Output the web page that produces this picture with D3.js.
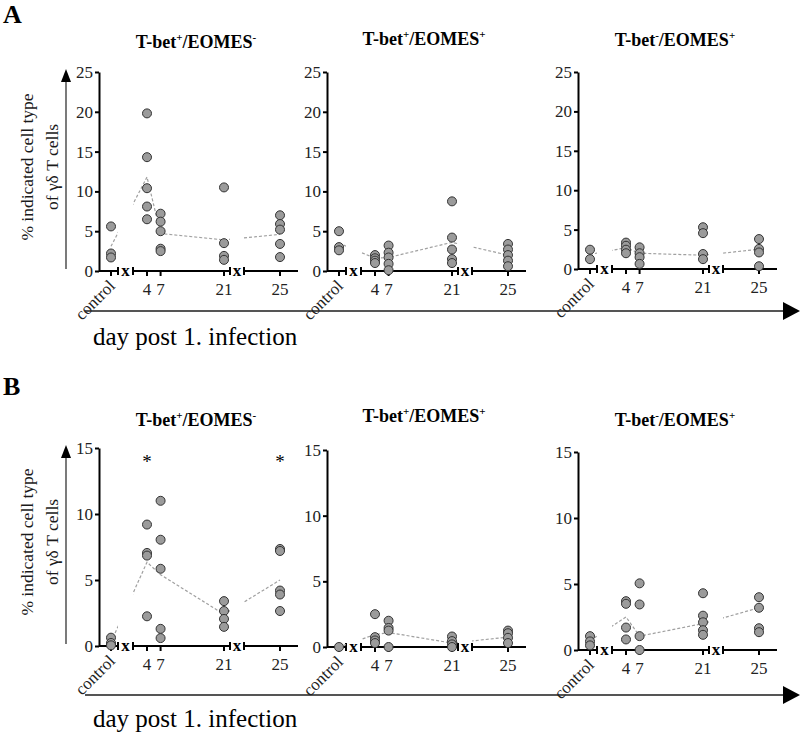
<!DOCTYPE html>
<html>
<head>
<meta charset="utf-8">
<title>T-bet / EOMES in gamma delta T cells</title>
<style>
  body { margin: 0; background: #fff; }
  svg text { font-family: "Liberation Serif", "Times New Roman", Times, serif !important; fill: #1a1a1a; }
  .tick text { font-size: 17px; }
  .domain, .tick line { stroke: #000; stroke-width: 2px; }
  .xaxis line { stroke: #000; stroke-width: 2px; }
  .mean { fill: none; stroke: #a0a0a0; stroke-width: 1.2px; stroke-dasharray: 3,2; }
  .dot { fill: #9b9b9b; stroke: #333; stroke-width: 1px; }
</style>
</head>
<body>
<svg id="chart" width="800" height="735"></svg>
<script src="https://d3js.org/d3.v7.min.js"></script>
<script>
// groups on the x axis (control, then days post infection)
const days = ["control", 4, 7, 21, 25];
const dayValue = [0, 4, 7, 21, 25];

// superscript signs for T-bet / EOMES in each column
const titles = [["+", "-"], ["+", "+"], ["-", "+"]];

// row A: % indicated cell type of γδ T cells, one array per group
const aTbetPosEomesNeg = [[5.6, 2.2, 1.7], [19.8, 14.3, 10.4, 8.1, 6.5], [7.2, 6.2, 5.0, 2.8, 2.5], [10.5, 3.5, 1.9, 1.4], [7.0, 5.9, 5.2, 3.4, 1.75]];
const aTbetPosEomesPos = [[5.0, 3.0, 2.6], [2.0, 1.6, 1.3, 1.0], [3.2, 2.3, 1.7, 0.9, 0.1], [8.75, 4.2, 2.7, 1.5, 1.0], [3.4, 2.7, 2.0, 1.3, 0.6]];
const aTbetNegEomesPos = [[2.45, 1.25], [3.35, 2.95, 2.45, 2.0], [2.75, 2.0, 1.5, 0.65], [5.3, 4.55, 1.9, 1.25], [3.8, 2.55, 2.1, 0.35]];

// row B
const bTbetPosEomesNeg = [[0.63, 0.23, 0.05], [9.2, 7.05, 6.85, 2.25], [11.0, 8.05, 5.85, 1.3, 0.6], [3.4, 2.65, 2.05, 1.45], [7.35, 7.2, 4.2, 3.9, 2.65]];
const bTbetPosEomesPos = [[0.0], [2.5, 0.75, 0.5, 0.3], [2.0, 1.45, 1.25, 0.0], [0.8, 0.45, 0.2, 0.0], [1.25, 1.05, 0.7, 0.3]];
const bTbetNegEomesPos = [[1.05, 0.65, 0.35], [3.7, 3.5, 1.7, 0.8], [5.05, 3.45, 1.05, 0.0], [4.3, 2.6, 2.1, 1.5, 1.15], [4.0, 3.2, 1.65, 1.35]];

// dashed group lines (per panel, per group)
const aLine = [[3.1, 11.8, 4.7, 3.9, 4.6], [3.5, 1.6, 1.7, 3.6, 2.0], [1.85, 2.7, 2.0, 1.75, 2.5]];
const bLine = [[0.3, 6.35, 5.4, 2.4, 5.0], [0.0, 0.95, 1.1, 0.3, 0.75], [0.7, 2.5, 1.05, 2.0, 3.2]];

const aTicks = [0, 5, 10, 15, 20, 25];
const bTicks = [0, 5, 10, 15];
const bStars = [4, 25]; // significant days, left panel of row B

const svg = d3.select("#chart");

// x positions inside a panel (broken axis), relative to the y axis
const x = d3.scaleLinear().domain([0, 4, 21, 25]).range([12, 48, 125, 181]);
const segments = [[0, 19], [34, 131], [145, 199]];
const panelX = [99, 327, 578];

const rows = [
  { label: "A", labelY: 23, series: [aTbetPosEomesNeg, aTbetPosEomesPos, aTbetNegEomesPos], lines: aLine,
    ticks: aTicks, bottoms: [271, 271, 269], tops: [72, 72, 72], titleY: [48, 45, 46],
    arrowY: 311, textY: 345 },
  { label: "B", labelY: 395, series: [bTbetPosEomesNeg, bTbetPosEomesPos, bTbetNegEomesPos], lines: bLine,
    ticks: bTicks, bottoms: [646, 647, 650], tops: [448, 450, 452], titleY: [426, 422, 426],
    arrowY: 695, textY: 727 }
];

rows.forEach((row, r) => {
  svg.append("text").attr("x", 3).attr("y", row.labelY)
    .style("font-size", "26px").style("font-weight", "bold").style("fill", "#000")
    .text(row.label);

  // y label with arrow
  const yb = row.bottoms[0], yt = row.tops[0];
  svg.append("line").attr("x1", 66).attr("x2", 66).attr("y1", yb - 2).attr("y2", yt + 8)
    .attr("stroke", "#222").attr("stroke-width", 1.2);
  svg.append("path").attr("d", `M66,${yt - 3}L61,${yt + 10}L71,${yt + 10}Z`).attr("fill", "#000");
  const yl = svg.append("g").attr("transform", `translate(0,${yb - 104}) rotate(-90)`);
  yl.append("text").attr("y", 33).attr("text-anchor", "middle").style("font-size", "17.5px")
    .text("% indicated cell type");
  yl.append("text").attr("y", 58).attr("text-anchor", "middle").style("font-size", "17.5px")
    .text("of γδ T cells");

  // x label with long arrow
  svg.append("line").attr("x1", 85).attr("x2", 786).attr("y1", row.arrowY).attr("y2", row.arrowY)
    .attr("stroke", "#555").attr("stroke-width", 2);
  svg.append("path").attr("d", `M800,${row.arrowY}L783,${row.arrowY - 9}L783,${row.arrowY + 9}Z`).attr("fill", "#000");
  svg.append("text").attr("x", 93).attr("y", row.textY).style("font-size", "25px").style("fill", "#000")
    .text("day post 1. infection");

  row.series.forEach((groups, p) => {
    const bottom = row.bottoms[p];
    const y = d3.scaleLinear().domain([0, d3.max(row.ticks)]).range([bottom, row.tops[p]]);
    const g = svg.append("g").attr("transform", `translate(${panelX[p]},0)`);

    // title
    const sign = titles[p];
    const t = g.append("text").attr("x", 97).attr("y", row.titleY[p]).attr("text-anchor", "middle")
      .style("font-size", "18px").style("font-weight", "bold").style("fill", "#000");
    t.append("tspan").text("T-bet");
    t.append("tspan").attr("dy", -7).style("font-size", "11px").text(sign[0]);
    t.append("tspan").attr("dy", 7).text("/EOMES");
    t.append("tspan").attr("dy", -7).style("font-size", "11px").text(sign[1]);

    // y axis
    g.append("g").call(d3.axisLeft(y).tickValues(row.ticks).tickSize(4).tickPadding(2).tickSizeOuter(0))
      .call(a => a.selectAll(".tick text").style("fill", "#222"));

    // broken x axis
    const xa = g.append("g").attr("class", "xaxis");
    segments.forEach(s => {
      xa.append("line").attr("x1", s[0]).attr("x2", s[1]).attr("y1", bottom).attr("y2", bottom);
    });
    [19, 34, 131, 145].forEach(b => {
      xa.append("line").attr("x1", b).attr("x2", b).attr("y1", bottom - 4).attr("y2", bottom + 4);
    });
    [26.5, 138].forEach(m => {
      xa.append("text").attr("x", m).attr("y", bottom + 5).attr("text-anchor", "middle")
        .style("font-size", "17px").style("font-weight", "bold").style("fill", "#000").text("x");
    });
    dayValue.forEach((d, i) => {
      xa.append("line").attr("x1", x(d)).attr("x2", x(d)).attr("y1", bottom).attr("y2", bottom + 5);
      if (i === 0) {
        xa.append("text").attr("text-anchor", "end").style("font-size", "17px").style("fill", "#222")
          .attr("transform", `translate(${x(d) + 5},${bottom + 16}) rotate(-45)`).text(days[i]);
      } else {
        xa.append("text").attr("x", x(d)).attr("y", bottom + 24).attr("text-anchor", "middle")
          .style("font-size", "17px").style("fill", "#222").text(days[i]);
      }
    });

    // dashed line through the groups, hidden over the breaks
    const clipId = `clip${r}${p}`;
    const cp = g.append("clipPath").attr("id", clipId);
    segments.forEach(s => {
      cp.append("rect").attr("x", s[0]).attr("y", 0).attr("width", s[1] - s[0]).attr("height", 735);
    });
    const lv = row.lines[p];
    const line = d3.line().x((v, i) => x(dayValue[i])).y(v => y(v));
    g.append("path").attr("class", "mean").attr("clip-path", `url(#${clipId})`).attr("d", line(lv));

    // points
    groups.forEach((vals, i) => {
      g.selectAll(null).data(vals).enter().append("circle").attr("class", "dot")
        .attr("cx", x(dayValue[i])).attr("cy", v => y(v)).attr("r", 4.5);
    });

    if (r === 1 && p === 0) {
      bStars.forEach(d => {
        g.append("text").attr("x", x(d)).attr("y", row.tops[p] + 20).attr("text-anchor", "middle")
          .style("font-size", "19px").style("fill", "#000").text("*");
      });
    }
  });
});
</script>
</body>
</html>
